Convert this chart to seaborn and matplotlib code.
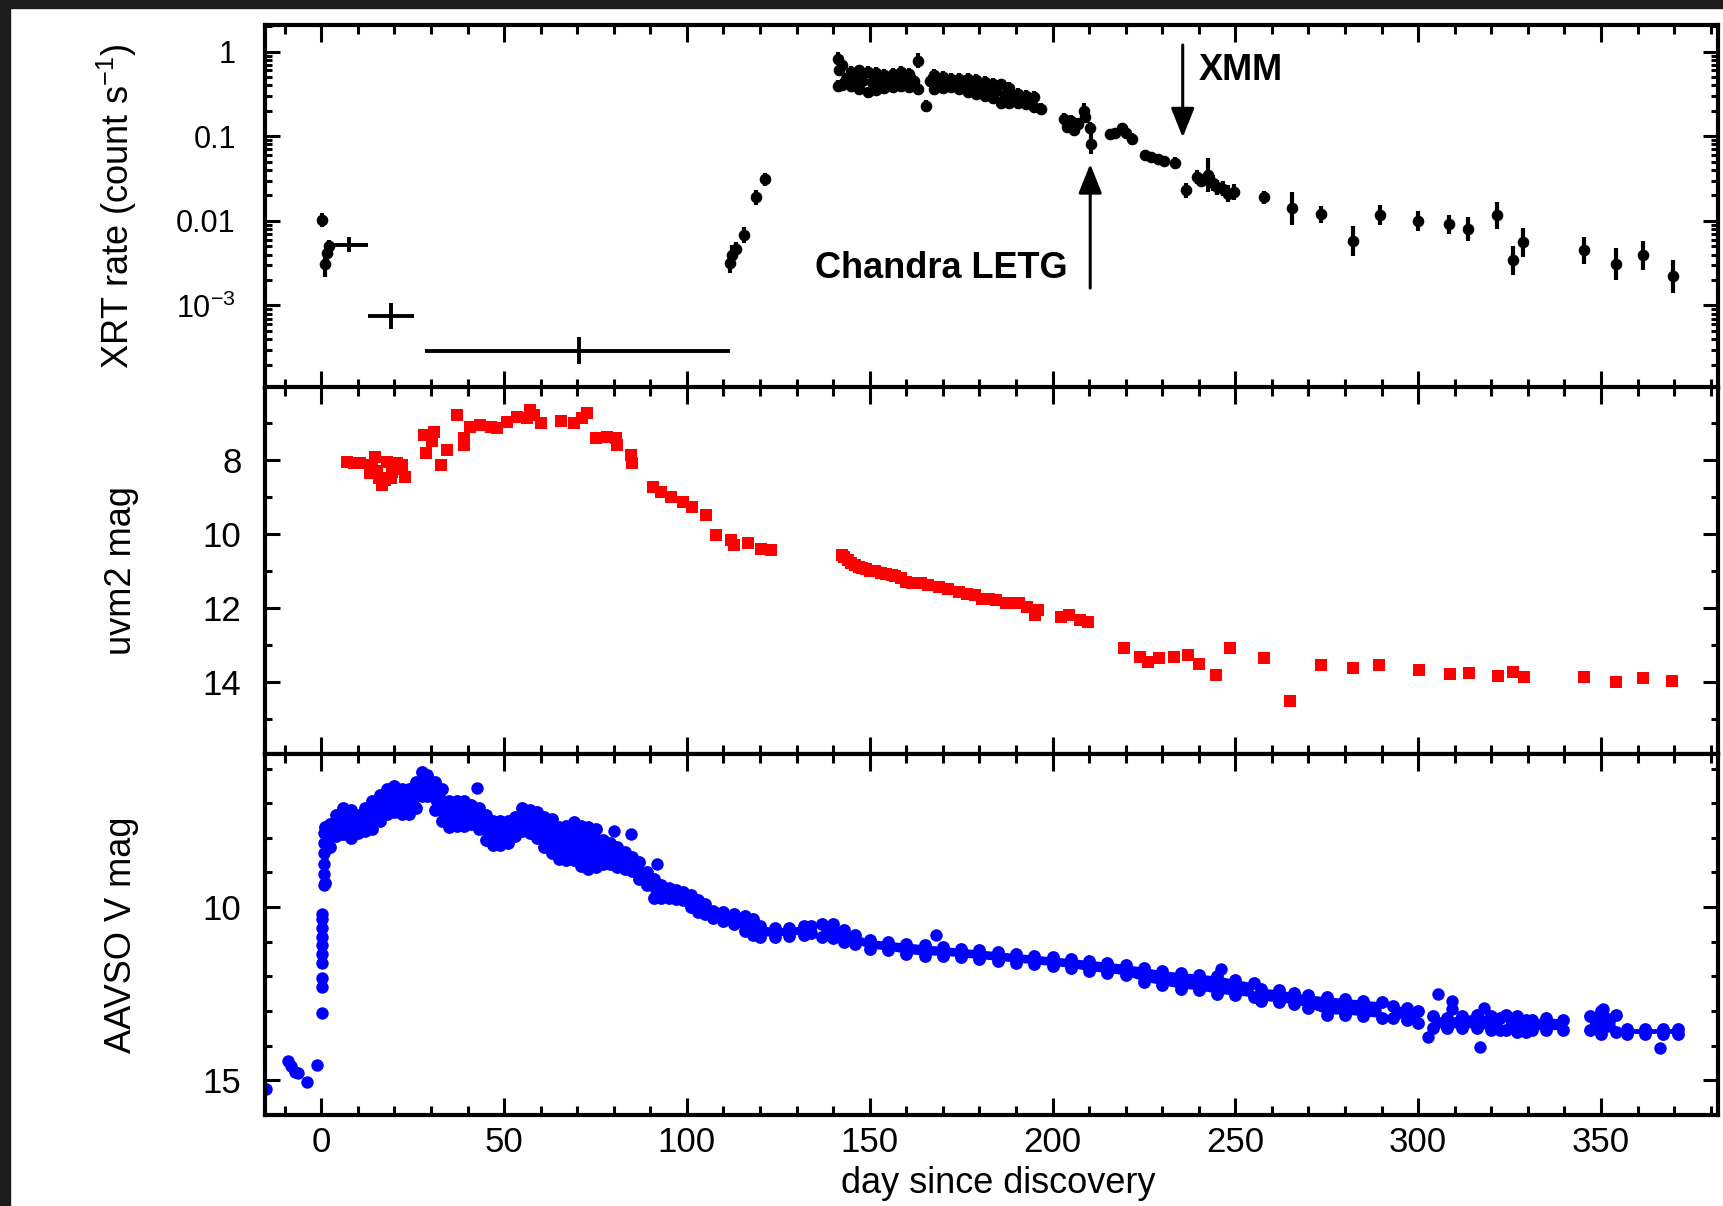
import numpy as np
import pandas as pd
import matplotlib
matplotlib.use("Agg")
import matplotlib.pyplot as plt
import seaborn as sns
from matplotlib.patches import Rectangle
from matplotlib.ticker import FixedLocator, FixedFormatter, MultipleLocator, LogLocator, NullFormatter

# ---------------- XRT count rate (days since discovery) ----------------
xrt_day = [0.2, 1.0, 1.6, 2.2,
           111.7, 112.3, 113.5, 115.7, 119.0, 121.4,
           141.2, 141.2, 141.5, 142.5, 142.5, 144.8, 144.8, 147.0, 147.0, 149.4, 149.4,
           151.7, 151.7, 154.0, 154.0, 156.3, 156.3, 158.5, 158.5, 160.8, 160.8,
           163.1, 163.1, 165.4, 167.7, 167.7, 170.0, 170.0, 172.2, 172.2, 174.5, 174.5,
           176.8, 176.8, 179.0, 179.0, 181.4, 181.4, 183.6, 183.6, 185.9, 185.9,
           188.0, 188.0, 190.5, 190.5, 192.8, 192.8, 195.0, 195.0, 196.9,
           143.5, 146.0, 148.0, 150.5, 153.0, 155.0, 157.5, 159.5, 162.0, 166.5, 169.0,
           171.0, 173.5, 176.0, 178.0, 180.0, 182.5, 184.5, 187.0, 189.0, 191.5, 194.0,
           203.0, 204.0, 205.0, 206.0, 207.0, 208.5, 209.0, 210.3, 210.5,
           215.6, 217.0, 218.9, 220.0, 221.6,
           225.2, 227.0, 228.8, 230.6, 233.4,
           236.5, 239.5, 240.5, 242.5, 244.0, 245.0, 246.5, 248.0, 249.5,
           257.8, 265.5, 273.5, 282.2, 289.5, 300.0, 308.5, 313.5, 321.5,
           325.8, 328.8, 345.3, 354.0, 361.5, 369.6]
xrt_rate = [0.0102, 0.0031, 0.0042, 0.0050,
            0.0032, 0.0040, 0.0046, 0.0068, 0.0190, 0.0310,
            0.83, 0.39, 0.60, 0.70, 0.40, 0.58, 0.39, 0.60, 0.36, 0.58, 0.33,
            0.56, 0.35, 0.53, 0.37, 0.55, 0.38, 0.58, 0.39, 0.55, 0.38,
            0.78, 0.36, 0.23, 0.53, 0.36, 0.50, 0.37, 0.48, 0.38, 0.48, 0.36,
            0.48, 0.33, 0.46, 0.32, 0.44, 0.30, 0.42, 0.28, 0.41, 0.25,
            0.37, 0.25, 0.32, 0.25, 0.30, 0.24, 0.29, 0.22, 0.21,
            0.48, 0.47, 0.45, 0.44, 0.45, 0.45, 0.47, 0.47, 0.45, 0.45, 0.44,
            0.43, 0.42, 0.41, 0.39, 0.38, 0.36, 0.34, 0.31, 0.30, 0.28, 0.26,
            0.16, 0.13, 0.15, 0.12, 0.14, 0.20, 0.17, 0.125, 0.082,
            0.107, 0.110, 0.125, 0.110, 0.093,
            0.060, 0.057, 0.054, 0.051, 0.048,
            0.023, 0.033, 0.030, 0.035, 0.028, 0.025, 0.024, 0.021, 0.022,
            0.019, 0.014, 0.012, 0.0058, 0.0117, 0.0100, 0.0091, 0.0080, 0.0117,
            0.0034, 0.0056, 0.0045, 0.0031, 0.0039, 0.0022]
xrt_err_dex = [0.08, 0.15, 0.12, 0.08,
               0.12, 0.11, 0.09, 0.10, 0.09, 0.08,
               0.08, 0.07, 0.07, 0.07, 0.07, 0.07, 0.07, 0.07, 0.07, 0.07, 0.07,
               0.07, 0.07, 0.07, 0.07, 0.07, 0.07, 0.07, 0.07, 0.07, 0.07,
               0.09, 0.07, 0.07, 0.07, 0.07, 0.07, 0.07, 0.07, 0.07, 0.07, 0.07,
               0.07, 0.07, 0.07, 0.07, 0.07, 0.07, 0.07, 0.07, 0.07, 0.07,
               0.07, 0.07, 0.07, 0.07, 0.07, 0.07, 0.07, 0.07, 0.07,
               0.07, 0.07, 0.07, 0.07, 0.07, 0.07, 0.07, 0.07, 0.07, 0.07, 0.07,
               0.07, 0.07, 0.07, 0.07, 0.07, 0.07, 0.07, 0.07, 0.07, 0.07, 0.07,
               0.07, 0.07, 0.07, 0.07, 0.07, 0.09, 0.07, 0.07, 0.12,
               0.06, 0.06, 0.06, 0.06, 0.07,
               0.06, 0.06, 0.06, 0.06, 0.07,
               0.09, 0.08, 0.08, 0.20, 0.09, 0.09, 0.09, 0.10, 0.09,
               0.08, 0.20, 0.10, 0.18, 0.12, 0.12, 0.11, 0.14, 0.16,
               0.17, 0.17, 0.16, 0.19, 0.17, 0.19]

# binned XRT points with horizontal (time) bars
xrt_bin_day = [7.7, 19.1, 70.5]
xrt_bin_rate = [0.0052, 0.00075, 0.00029]
xrt_bin_start = [2.8, 12.8, 28.3]
xrt_bin_end = [12.8, 25.4, 111.9]
xrt_bin_err_dex = [0.09, 0.15, 0.16]

# ---------------- UVOT uvm2 magnitude ----------------
uvm2_day = [7.0, 8.9, 10.7, 13.4, 14.0, 14.8, 15.2, 15.7, 16.6, 17.3, 18.0, 19.0, 19.3, 20.7,
            21.8, 22.2, 23.0,
            28.0, 28.5, 30.3, 30.8, 32.6, 34.4, 37.2, 39.0, 39.0, 40.8, 43.5,
            46.3, 48.1, 50.8, 53.6, 56.3, 57.2, 58.2, 60.0, 65.5, 69.1, 71.4,
            72.8, 75.0, 78.2, 80.5, 81.0, 84.6, 85.1, 90.6, 92.8, 95.6, 98.8,
            101.5, 105.2, 107.9, 112.0, 112.9, 116.6, 120.2, 123.0,
            142.5, 143.0, 144.0, 145.0, 146.0, 147.0, 148.0, 149.0, 150.0, 151.5, 153.0,
            154.5, 156.0, 157.0, 158.5,
            160.0, 161.5, 164.0, 166.0, 169.0, 171.5, 174.4, 176.5, 178.7, 180.8, 182.5,
            184.4, 187.3, 189.0, 190.9,
            193.0, 195.2, 195.9, 202.4, 204.5, 207.4, 209.6,
            219.6, 224.0, 226.1, 229.0, 233.3, 237.0, 240.0, 244.8, 248.4,
            257.7, 265.0, 273.5, 282.2, 289.4, 300.1, 308.8, 313.8, 321.7,
            326.0, 329.0, 345.4, 354.0, 361.5, 369.5]
uvm2_mag = [8.05, 8.10, 8.10, 8.37, 8.15, 7.92, 8.30, 8.50, 8.68, 8.55, 8.05, 8.50, 8.32, 8.10,
            8.25, 8.15, 8.46,
            7.33, 7.83, 7.50, 7.24, 8.14, 7.74, 6.79, 7.60, 7.42, 7.11, 7.06,
            7.11, 7.15, 6.97, 6.84, 6.88, 6.66, 6.79, 7.00, 6.95, 7.00, 6.88,
            6.75, 7.42, 7.38, 7.42, 7.60, 7.87, 8.10, 8.73, 8.86, 9.00, 9.14,
            9.27, 9.50, 10.04, 10.17, 10.30, 10.26, 10.40, 10.44,
            10.58, 10.63, 10.70, 10.78, 10.85, 10.90, 10.92, 10.95, 11.00, 11.02, 11.05,
            11.08, 11.12, 11.15, 11.20,
            11.30, 11.32, 11.34, 11.38, 11.43, 11.50, 11.57, 11.62, 11.66, 11.75, 11.77,
            11.79, 11.88, 11.88, 11.88,
            11.97, 12.20, 12.06, 12.24, 12.20, 12.33, 12.38,
            13.10, 13.32, 13.46, 13.37, 13.32, 13.28, 13.53, 13.82, 13.10,
            13.37, 14.52, 13.55, 13.62, 13.55, 13.68, 13.80, 13.75, 13.85,
            13.73, 13.86, 13.86, 14.00, 13.91, 13.98]

# ---------------- AAVSO V magnitude ----------------
# dense monitoring: bright and faint envelope of the data cloud (NaN = gap)
aavso_day = [1.0, 2.5, 4, 6, 8, 10, 12, 14, 16, 18, 20, 22, 24, 26, 27.5, 29, 31, 33, 35, 37,
             39, 41, 43, 45, 47, 49, 51, 53, 55, 57, 59, 61, 63, 65, 67, 69, 71, 73, 75, 77,
             79, 81, 83, 85, 87, 89, 91, 93, 95, 97, 99, 101, 103, 105, 107, 110, 113, 116,
             118, 120, 124, 128, 132, 134, 135.5, 137, 140, 143, 146, 150, 155, 160, 165, 170,
             175, 180, 185, 190, 195, 200, 205, 210, 215, 220, 225, 230, 235, 240, 245, 250,
             255, 256, 257, 262, 266, 270, 275, 280, 285, 290, 291.5, 293, 297, 300, 302,
             304, 308, 312, 316, 320, 322.5, 323.2, 324, 327, 329.5, 330.2, 331, 335, 339.5,
             343, 347, 350, 354, 355.5, 357, 362, 367, 371]
aavso_bright = [7.70, 7.60, 7.35, 7.15, 7.20, 7.35, 7.15, 6.95, 6.75, 6.60, 6.50, 6.60, 6.60,
                6.40, 6.10, 6.20, 6.40, 6.60, 6.95, 6.95, 6.95, 7.05, 7.15, 7.35, 7.50, 7.50,
                7.50, 7.40, 7.15, 7.20, 7.25, 7.40, 7.45, 7.70, 7.65, 7.55, 7.65, 7.70, 7.75,
                8.05, 8.15, 8.25, 8.40, 8.55, 8.70, 9.00, 9.20, 9.35, 9.45, 9.50, 9.55, 9.65,
                9.80, 9.90, 10.10, 10.15, 10.20, 10.25, 10.35, 10.55, 10.60, 10.60, 10.55,
                10.55, np.nan, 10.48, 10.50, 10.65, 10.80, 10.95, 11.00, 11.05, 11.10, 11.15,
                11.20, 11.25, 11.30, 11.35, 11.40, 11.45, 11.50, 11.55, 11.60, 11.67, 11.75,
                11.85, 11.90, 11.95, 12.00, 12.10, 12.20, np.nan, 12.35, 12.40, 12.48, 12.55,
                12.60, 12.65, 12.70, 12.75, np.nan, 12.85, 12.90, 13.00, np.nan,
                13.15, 13.20, 13.15, 13.10, 13.15, 13.20, np.nan, 13.10, 13.15, 13.25, np.nan,
                13.25, 13.20, 13.25, np.nan, 13.15, 13.00, 13.10, np.nan, 13.52, 13.52, 13.52,
                13.52]
aavso_faint = [9.30, 8.25, 7.95, 7.90, 8.00, 7.85, 7.80, 7.75, 7.50, 7.30, 7.25, 7.30, 7.30,
               7.15, 6.80, 6.80, 7.20, 7.50, 7.70, 7.65, 7.65, 7.60, 7.75, 8.05, 8.20, 8.20,
               8.15, 7.95, 7.80, 7.85, 8.00, 8.25, 8.45, 8.60, 8.65, 8.65, 8.80, 8.90, 8.85,
               8.75, 8.75, 8.85, 8.90, 8.95, 9.20, 9.35, 9.75, 9.75, 9.75, 9.77, 9.80, 10.00,
               10.15, 10.20, 10.30, 10.40, 10.50, 10.70, 10.80, 10.85, 10.85, 10.82, 10.80,
               10.75, np.nan, 10.85, 10.90, 11.00, 11.05, 11.20, 11.25, 11.35, 11.40, 11.40,
               11.45, 11.50, 11.55, 11.60, 11.65, 11.70, 11.75, 11.85, 11.90, 11.97, 12.15,
               12.25, 12.35, 12.40, 12.50, 12.55, 12.60, np.nan, 12.70, 12.75, 12.80, 12.90,
               13.10, 13.10, 13.15, 13.20, np.nan, 13.20, 13.25, 13.35, np.nan,
               13.50, 13.50, 13.50, 13.50, 13.55, 13.55, np.nan, 13.55, 13.60, 13.60, np.nan,
               13.55, 13.55, 13.55, np.nan, 13.55, 13.65, 13.60, np.nan, 13.65, 13.67, 13.65,
               13.67]
# individual AAVSO points (pre-discovery, rise, outliers)
aavso_pt_day = [-15.0, -9.0, -8.3, -7.3, -6.5, -3.8, -1.2,
                0.1, 0.15, 0.15, 0.2, 0.2, 0.2, 0.2, 0.2, 0.2, 0.25, 0.6, 0.6, 0.6, 0.7, 0.8, 0.8,
                42.6, 80.0, 84.6, 91.9, 168.0, 246.2, 302.7, 305.3, 309.3, 309.3, 316.8,
                318.0, 350.5, 366.2]
aavso_pt_mag = [15.25, 14.45, 14.60, 14.75, 14.80, 15.05, 14.55,
                13.05, 12.30, 12.05, 11.60, 11.35, 11.10, 10.85, 10.60, 10.35, 10.20, 9.35, 9.05,
                8.75, 8.45, 8.15, 7.85,
                6.55, 7.80, 7.90, 8.75, 10.80, 11.80, 13.74, 12.52, 12.72, 12.95, 14.03,
                12.91, 12.95, 14.08]

# ---------------- axis labels & ticks ----------------
xrt_ticks = [1e-3, 1e-2, 1e-1, 1]
xrt_ticklabels = [r"$10^{-3}$", "0.01", "0.1", "1"]
uvm2_ticks = [8, 10, 12, 14]
aavso_ticks = [10, 15]

sns.set_style("ticks")
plt.rcParams["font.family"] = ["Liberation Sans", "DejaVu Sans"]
plt.rcParams["mathtext.fontset"] = "custom"
plt.rcParams["mathtext.rm"] = "Liberation Sans"
plt.rcParams["mathtext.default"] = "regular"
for key in ("text.color", "axes.labelcolor", "xtick.color", "ytick.color", "axes.edgecolor"):
    plt.rcParams[key] = "black"

W, H = 1723, 1206
fig = plt.figure(figsize=(W / 100, H / 100), dpi=100)
fig.patch.set_facecolor("white")

L, R = 265 / W, 1718 / W
def fy(p):
    return 1 - p / H
ax1 = fig.add_axes([L, fy(387.5), R - L, fy(25) - fy(387.5)])
ax2 = fig.add_axes([L, fy(754), R - L, fy(387.5) - fy(754)], sharex=ax1)
ax3 = fig.add_axes([L, fy(1115), R - L, fy(754) - fy(1115)], sharex=ax1)

# --- XRT panel ---
xr = np.array(xrt_rate)
ed = np.array(xrt_err_dex)
lo = xr - xr * 10 ** (-ed)
hi = xr * 10 ** ed - xr
ax1.errorbar(xrt_day, xrt_rate, yerr=[lo, hi], fmt="none", ecolor="black", elinewidth=3.0, capsize=0, zorder=2)
br = np.array(xrt_bin_rate)
bd = np.array(xrt_bin_day)
bed = np.array(xrt_bin_err_dex)
ax1.errorbar(xrt_bin_day, xrt_bin_rate,
             xerr=[bd - np.array(xrt_bin_start), np.array(xrt_bin_end) - bd],
             yerr=[br - br * 10 ** (-bed), br * 10 ** bed - br],
             fmt="none", ecolor="black", elinewidth=2.8, capsize=0, zorder=2)
xrt_df = pd.DataFrame({"day": xrt_day, "rate": xrt_rate})
sns.scatterplot(data=xrt_df, x="day", y="rate", ax=ax1, color="black", marker="o",
                s=70, linewidth=0, zorder=3)
ax1.set_yscale("log")
ax1.set_ylim(1.07e-4, 2.07)
ax1.yaxis.set_major_locator(FixedLocator(xrt_ticks))
ax1.yaxis.set_major_formatter(FixedFormatter(xrt_ticklabels))
ax1.yaxis.set_minor_locator(LogLocator(base=10, subs=np.arange(2, 10), numticks=20))
ax1.yaxis.set_minor_formatter(NullFormatter())
ax1.set_ylabel("XRT rate (count s$^{-1}$)", fontsize=26)

arrow = dict(arrowstyle="-|>,head_length=0.5,head_width=0.2", color="black", lw=2.2,
             shrinkA=0, shrinkB=0, mutation_scale=36)
ax1.annotate("", xy=(235.6, 0.097), xytext=(235.6, 1.2), arrowprops=arrow, zorder=4)
ax1.text(240.1, 0.6, "XMM", fontsize=26, fontweight="bold", ha="left", va="center", color="black")
ax1.annotate("", xy=(210.3, 0.047), xytext=(210.3, 0.0016), arrowprops=arrow, zorder=4)
ax1.text(204.0, 0.00275, "Chandra LETG", fontsize=26, fontweight="bold", ha="right", va="center",
         color="black")

# --- uvm2 panel ---
uv_df = pd.DataFrame({"day": uvm2_day, "mag": uvm2_mag})
sns.scatterplot(data=uv_df, x="day", y="mag", ax=ax2, color="#ff0000", marker="s",
                s=68, linewidth=0)
ax2.set_ylim(15.95, 6.05)
ax2.yaxis.set_major_locator(FixedLocator(uvm2_ticks))
ax2.yaxis.set_minor_locator(MultipleLocator(1))
ax2.set_ylabel("uvm2 mag", fontsize=26)

# --- AAVSO panel ---
ax3.fill_between(aavso_day, aavso_bright, aavso_faint, color="#0000ff", linewidth=0)
band_df = pd.DataFrame({"day": aavso_day * 2, "mag": aavso_bright + aavso_faint}).dropna()
sns.scatterplot(data=band_df, x="day", y="mag", ax=ax3, color="#0000ff", marker="o",
                s=85, linewidth=0)
pt_df = pd.DataFrame({"day": aavso_pt_day, "mag": aavso_pt_mag})
sns.scatterplot(data=pt_df, x="day", y="mag", ax=ax3, color="#0000ff", marker="o",
                s=80, linewidth=0)
ax3.set_ylim(16.0, 5.58)
ax3.yaxis.set_major_locator(FixedLocator(aavso_ticks))
ax3.yaxis.set_minor_locator(MultipleLocator(1))
ax3.set_ylabel("AAVSO V mag", fontsize=26)
ax3.set_xlabel("day since discovery", fontsize=26)

ax1.set_xlim(-15.4, 382.0)
for ax in (ax1, ax2, ax3):
    ax.set_facecolor("white")
    ax.xaxis.set_major_locator(MultipleLocator(50))
    ax.xaxis.set_minor_locator(MultipleLocator(10))
    for sp in ax.spines.values():
        sp.set_linewidth(3)
        sp.set_color("black")
    ax.tick_params(axis="both", which="both", direction="in", top=True, right=True,
                   bottom=True, left=True, width=2.2, color="black", labelcolor="black")
    ax.tick_params(axis="x", which="major", length=12, labelsize=25, pad=8)
    ax.tick_params(axis="x", which="minor", length=6.5)
    ax.tick_params(axis="y", which="major", length=10.5, labelsize=25, pad=17)
    ax.tick_params(axis="y", which="minor", length=5)
    ax.yaxis.set_label_coords(-0.0867, 0.5)
    ax.grid(False)
ax1.tick_params(axis="y", which="major", labelsize=22, pad=21)
ax1.tick_params(axis="x", labelbottom=False)
ax2.tick_params(axis="x", labelbottom=False)
ax3.xaxis.set_label_coords(0.505, -0.142)

# dark frame strips of the original screenshot
fig.add_artist(Rectangle((0, 0), 10 / W, 1, transform=fig.transFigure, color="#1c1c1c", zorder=10))
fig.add_artist(Rectangle((0, 1 - 8 / H), 1, 8 / H, transform=fig.transFigure, color="#1c1c1c", zorder=10))

fig.savefig("out.png", dpi=100)
